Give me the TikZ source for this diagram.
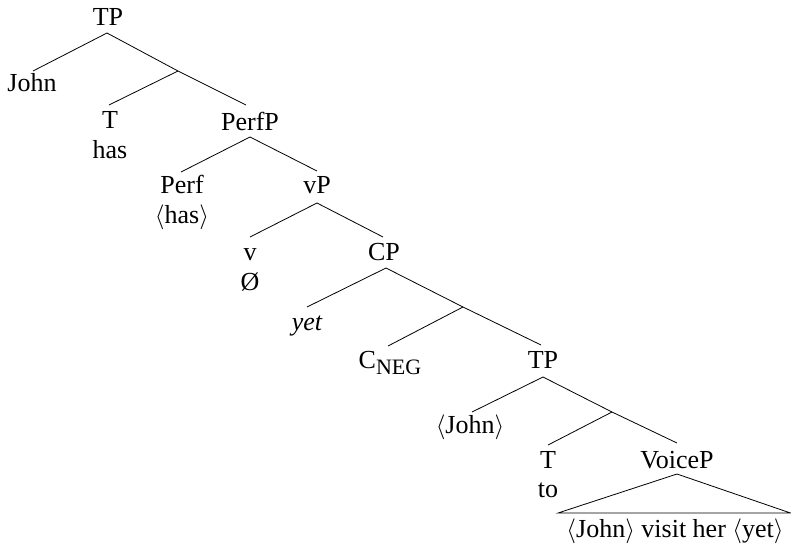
\documentclass[tikz,border=0pt]{standalone}
\usepackage{fontspec}
\setmainfont{Liberation Serif}
\begin{document}
\begin{tikzpicture}[x=1pt,y=-1pt,
  lbl/.style={anchor=base,inner sep=0pt,font=\fontsize{26}{31}\selectfont},
  br/.style={line width=0.8pt}]
\useasboundingbox (0,0) rectangle (791,546);
% labels
\node[lbl] (TP1) at (108,25) {TP};
\node[lbl] (John) at (32,91) {John};
\node[lbl] (T1) at (110,128) {T};
\node[lbl] (has) at (110,158) {has};
\node[lbl] (PerfP) at (250,130) {PerfP};
\node[lbl] (Perf) at (182,193) {Perf};
\node[lbl] (hasT) at (182,223) {$\langle$has$\rangle$};
\node[lbl] (vP) at (317,193) {vP};
\node[lbl] (v) at (250,260) {v};
\node[lbl] (null) at (250,290) {Ø};
\node[lbl] (CP) at (384,260) {CP};
\node[lbl] (yet) at (307,330) {\itshape yet};
\node[lbl] (CNEG) at (390,368) {C\raisebox{-6pt}{\fontsize{22}{22}\selectfont NEG}};
\node[lbl] (TP2) at (543,368) {TP};
\node[lbl] (JohnT) at (470,433) {$\langle$John$\rangle$};
\node[lbl] (T2) at (548,468) {T};
\node[lbl] (to) at (548,497) {to};
\node[lbl] (VoiceP) at (677,468) {VoiceP};
\node[lbl] (VoiceC) at (675,537) {$\langle$John$\rangle$ visit her $\langle$yet$\rangle$};
% branch points
\coordinate (tp1t) at (107,33);
\coordinate (johnt) at (33,71);
\coordinate (tb1) at (178,71);
\coordinate (t1t) at (109,105);
\coordinate (perfpb) at (246,105);
\coordinate (perfpt) at (250,137);
\coordinate (perft) at (181,172);
\coordinate (vpb) at (317,171);
\coordinate (vpt) at (317,203);
\coordinate (vt) at (250,237);
\coordinate (cpb) at (383,237);
\coordinate (cpt) at (386,268);
\coordinate (yett) at (307,307);
\coordinate (cb) at (463,307);
\coordinate (cnegt) at (388,346);
\coordinate (tp2b) at (541,345);
\coordinate (tp2t) at (543,377);
\coordinate (johntt) at (472,412);
\coordinate (tb2) at (612,412);
\coordinate (t2t) at (548,445);
\coordinate (voicepb) at (677,443);
\coordinate (voicept) at (677,474);
\coordinate (triL) at (558,513);
\coordinate (triR) at (790.5,513);
% branches
\draw[br] (tp1t) -- (johnt);
\draw[br] (tp1t) -- (tb1) -- (perfpb);
\draw[br] (tb1) -- (t1t);
\draw[br] (perfpt) -- (perft);
\draw[br] (perfpt) -- (vpb);
\draw[br] (vpt) -- (vt);
\draw[br] (vpt) -- (cpb);
\draw[br] (cpt) -- (yett);
\draw[br] (cpt) -- (cb) -- (tp2b);
\draw[br] (cb) -- (cnegt);
\draw[br] (tp2t) -- (johntt);
\draw[br] (tp2t) -- (tb2) -- (voicepb);
\draw[br] (tb2) -- (t2t);
\draw[br] (triL) -- (voicept) -- (triR) -- cycle;
\end{tikzpicture}
\end{document}
